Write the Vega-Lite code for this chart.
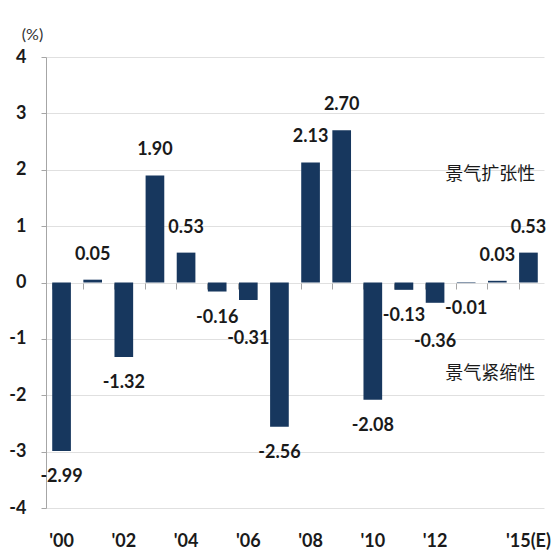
{
  "$schema": "https://vega.github.io/schema/vega-lite/v6.json",
  "autosize": {"type": "none"},
  "width": 498,
  "height": 451,
  "padding": {"left": 46, "top": 57, "right": 13, "bottom": 47},
  "background": "white",
  "config": {
    "view": {"stroke": null},
    "font": "Lato",
    "locale": {"number": {"decimal": ".", "thousands": ",", "grouping": [3], "currency": ["$", ""], "minus": "-"}}
  },
  "resolve": {"axis": {"x": "independent"}},
  "data": {
    "values": [
      {"year": "2000", "value": -2.99},
      {"year": "2001", "value": 0.05},
      {"year": "2002", "value": -1.32},
      {"year": "2003", "value": 1.90},
      {"year": "2004", "value": 0.53},
      {"year": "2005", "value": -0.16},
      {"year": "2006", "value": -0.31},
      {"year": "2007", "value": -2.56},
      {"year": "2008", "value": 2.13},
      {"year": "2009", "value": 2.70},
      {"year": "2010", "value": -2.08},
      {"year": "2011", "value": -0.13},
      {"year": "2012", "value": -0.36},
      {"year": "2013", "value": -0.01},
      {"year": "2014", "value": 0.03},
      {"year": "2015", "value": 0.53}
    ]
  },
  "layer": [
    {
      "mark": {"type": "bar", "color": "#17375e"},
      "encoding": {
        "x": {
          "field": "year", "type": "ordinal",
          "scale": {"paddingInner": 0.4, "paddingOuter": 0.2},
          "axis": {
            "title": null, "orient": "bottom", "domain": false, "ticks": false, "grid": false,
            "labelAngle": 0, "labelPadding": 24, "labelFontSize": 18, "labelFontWeight": "bold",
            "labelColor": "#1a1a1a",
            "values": ["2000", "2002", "2004", "2006", "2008", "2010", "2012", "2015"],
            "labelExpr": "datum.value == '2015' ? \"'15(E)\" : \"'\" + slice(datum.value, 2)"
          }
        },
        "y": {
          "field": "value", "type": "quantitative",
          "scale": {"domain": [-4, 4], "nice": false},
          "axis": {
            "values": [-4, -3, -2, -1, 0, 1, 2, 3, 4],
            "title": "(%)", "titleAngle": 0, "titleX": -14, "titleY": -23,
            "titleAlign": "center", "titleBaseline": "middle", "titleFontSize": 16,
            "titleFontWeight": "normal", "titleColor": "#333333",
            "labelFontSize": 18, "labelFontWeight": "bold", "labelColor": "#1a1a1a", "labelPadding": 15,
            "tickSize": 5, "tickColor": "#a6a6a6", "domainColor": "#a6a6a6",
            "gridColor": "#e0e0e0", "grid": true, "format": "d"
          }
        }
      }
    },
    {
      "mark": {"type": "rule", "color": "#a6a6a6", "strokeWidth": 1},
      "encoding": {
        "y": {"datum": 0, "type": "quantitative"},
        "x": {
          "field": "year", "type": "ordinal",
          "axis": {
            "title": null, "orient": "bottom", "offset": -225, "labels": false, "domain": false,
            "grid": false, "ticks": true, "bandPosition": 0, "tickSize": 6, "tickColor": "#a6a6a6"
          }
        }
      }
    },
    {
      "transform": [{"filter": "datum.value >= 0"}],
      "mark": {"type": "text", "baseline": "middle", "dy": -25, "fontSize": 18, "fontWeight": "bold", "color": "#1a1a1a"},
      "encoding": {
        "x": {"field": "year", "type": "ordinal", "axis": null},
        "y": {"field": "value", "type": "quantitative"},
        "text": {"field": "value", "type": "quantitative", "format": ".2f"}
      }
    },
    {
      "transform": [{"filter": "datum.value < 0 && (datum.value <= -0.5 || datum.value >= -0.2)"}],
      "mark": {"type": "text", "baseline": "middle", "dy": 26, "fontSize": 18, "fontWeight": "bold", "color": "#1a1a1a"},
      "encoding": {
        "x": {"field": "year", "type": "ordinal", "axis": null},
        "y": {"field": "value", "type": "quantitative"},
        "text": {"field": "value", "type": "quantitative", "format": ".2f"}
      }
    },
    {
      "transform": [{"filter": "datum.value < -0.2 && datum.value > -0.5"}],
      "mark": {"type": "text", "baseline": "middle", "dy": 39, "fontSize": 18, "fontWeight": "bold", "color": "#1a1a1a"},
      "encoding": {
        "x": {"field": "year", "type": "ordinal", "axis": null},
        "y": {"field": "value", "type": "quantitative"},
        "text": {"field": "value", "type": "quantitative", "format": ".2f"}
      }
    },
    {
      "data": {"values": [
        {"year": "2014", "v": 1.9, "t": "景气扩张性"},
        {"year": "2014", "v": -1.63, "t": "景气紧缩性"}
      ]},
      "mark": {"type": "text", "baseline": "middle", "dx": -7, "fontSize": 18, "font": "Noto Sans CJK SC", "color": "#1a1a1a"},
      "encoding": {
        "x": {"field": "year", "type": "ordinal", "axis": null},
        "y": {"field": "v", "type": "quantitative"},
        "text": {"field": "t"}
      }
    }
  ]
}
